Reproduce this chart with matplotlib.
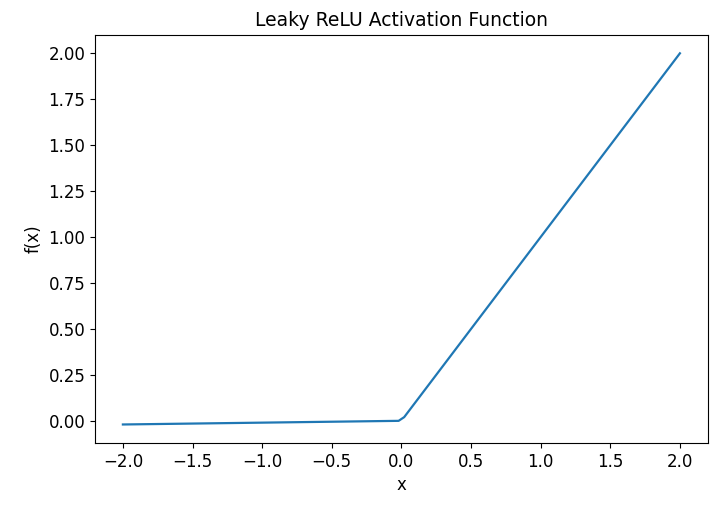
import matplotlib
matplotlib.use("Agg")
import matplotlib.pyplot as plt

x_vals = [-2.0, -0.02, 0.02, 2.0]
y_vals = [-0.02, -0.0002, 0.02, 2.0]
title = "Leaky ReLU Activation Function"

fig = plt.figure(figsize=(7.2, 5.11), dpi=100)
ax = fig.add_axes([0.132, 0.133, 0.851, 0.799])
ax.plot(x_vals, y_vals, color="#1f77b4", linewidth=1.6)
ax.set_title(title, fontsize=13.5)
ax.set_xlabel("x", fontsize=12)
ax.set_ylabel("f(x)", fontsize=12)
ax.tick_params(labelsize=12)
fig.savefig("out.png", dpi=100)
